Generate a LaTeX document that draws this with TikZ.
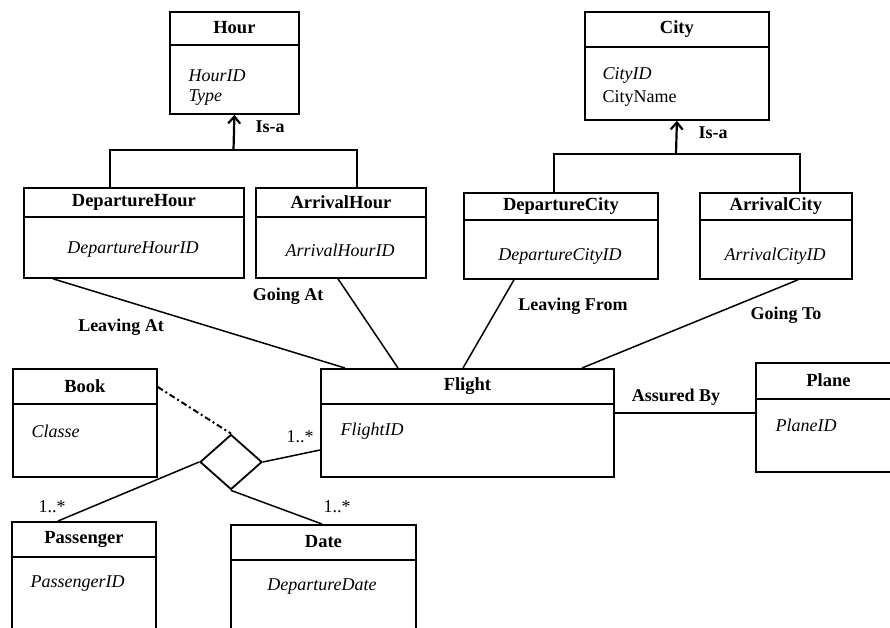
\documentclass[tikz,border=0pt]{standalone}
\usepackage{fontspec}
\setmainfont{Liberation Serif}
\usetikzlibrary{shapes.geometric,arrows.meta}
\usetikzlibrary{calc,positioning}

\newcommand{\umlbox}[7]{%
	\node[cls, minimum width=#4, minimum height=#5] (#1) at (#2,#3) {};
	\draw[line width=1.4pt] ($(#1.north west)+(0,#6)$) -- ($(#1.north east)+(0,#6)$);
	\node[ttl] (#1t) at ($(#1.north)+(0,#6/2)$) {#7};
}

\begin{document}
\begin{tikzpicture}[x=1pt,y=-1pt,
	every node/.style={font=\fontsize{18}{21}\selectfont},
	cls/.style={draw,line width=1.8pt,anchor=north west,inner sep=0pt},
	ttl/.style={font=\fontsize{18.5}{21}\selectfont\bfseries},
	att/.style={font=\fontsize{18}{21}\selectfont\itshape},
	lab/.style={font=\fontsize{18}{21}\selectfont\bfseries},
	link/.style={line width=1.5pt},
	isa/.style={line width=2.2pt,-{Straight Barb[length=7pt,width=12pt]}}]
	\useasboundingbox (0,0) rectangle (890,627);
	\clip (0,0) rectangle (890,627);
	% classes
	\umlbox{hour}{169}{11}{129}{102}{34}{Hour}
	\umlbox{dh}{23}{187}{220}{90}{30}{DepartureHour}
	\umlbox{ah}{255}{187}{170}{90}{30}{ArrivalHour}
	\umlbox{city}{584}{11}{184}{108}{36}{City}
	\umlbox{dc}{463}{192}{194}{86}{28}{DepartureCity}
	\umlbox{ac}{699}{192}{152}{86}{28}{ArrivalCity}
	\umlbox{flight}{320}{368}{293}{108}{36}{Flight}
	\umlbox{plane}{755}{362}{145}{109}{37}{Plane}
	\umlbox{book}{12}{368}{144}{108}{36}{Book}
	\umlbox{pass}{11}{521}{144}{130}{36}{Passenger}
	\umlbox{date}{230}{524}{185}{130}{36}{Date}
	% attributes
	\node[att,anchor=west] (hour1) at (185,76) {HourID};
	\node[att,anchor=west] (hour2) at (185,98) {Type};
	\node[att,anchor=west] (city1) at (599,75) {CityID};
	\node[anchor=west] (city2) at (599,98) {CityName};
	\node[att] (dh1) at (133,250) {DepartureHourID};
	\node[att] (ah1) at (340,250) {ArrivalHourID};
	\node[att] (dc1) at (560,256) {DepartureCityID};
	\node[att] (ac1) at (775,256) {ArrivalCityID};
	\node[att,anchor=west] (flight1) at (337,431) {FlightID};
	\node[att,anchor=west] (plane1) at (772,425) {PlaneID};
	\node[att,anchor=west] (book1) at (28,431) {Classe};
	\node[att,anchor=west] (pass1) at (27,584) {PassengerID};
	\node[att] (date1) at (322,587) {DepartureDate};
	% is-a
	\coordinate (hbar) at (233.5,150);
	\coordinate (cbar) at (676,154);
	\draw[isa] (hbar) -- (hour.south);
	\draw[link] ([xshift=87]dh.north west) |- (hbar) -| ([xshift=102]ah.north west);
	\draw[isa] (cbar) -- (city.south);
	\draw[link] ([xshift=91]dc.north west) |- (cbar) -| ([xshift=101]ac.north west);
	\node[lab] (isa1) at (270,127) {Is-a};
	\node[lab] (isa2) at (713,133) {Is-a};
	% associations
	\draw[link] ([xshift=30]dh.south west) -- ([xshift=25]flight.north west);
	\draw[link] ([xshift=83]ah.south west) -- ([xshift=78]flight.north west);
	\draw[link] ([xshift=51]dc.south west) -- ([xshift=143]flight.north west);
	\draw[link] ([xshift=99]ac.south west) -- ([xshift=262]flight.north west);
	\draw[line width=1.2pt] ($(flight.north east)+(0,45)$) -- ($(plane.north west)+(0,51)$);
	\node[lab] (l1) at (121,327) {Leaving At};
	\node[lab] (l2) at (288,296) {Going At};
	\node[lab] (l3) at (573,306) {Leaving From};
	\node[lab] (l4) at (786,315) {Going To};
	\node[lab] (l5) at (676,397) {Assured By};
	% ternary
	\node[draw,diamond,line width=1.8pt,inner sep=0pt,minimum width=62,minimum height=55] (rel) at (231,462) {};
	\draw[link] (rel.east) -- ($(flight.north west)+(0,82)$);
	\draw[link] (rel.west) -- ([xshift=47]pass.north west);
	\draw[link] (rel.south) -- ([xshift=92]date.north west);
	\draw[line width=2pt,dash pattern=on 6pt off 3pt on 2pt off 3pt] ($(book.north east)+(0,19)$) -- (rel.north);
	\node (m1) at (300,437) {1..*};
	\node (m2) at (52,507) {1..*};
	\node (m3) at (337,507) {1..*};
\end{tikzpicture}
\end{document}
